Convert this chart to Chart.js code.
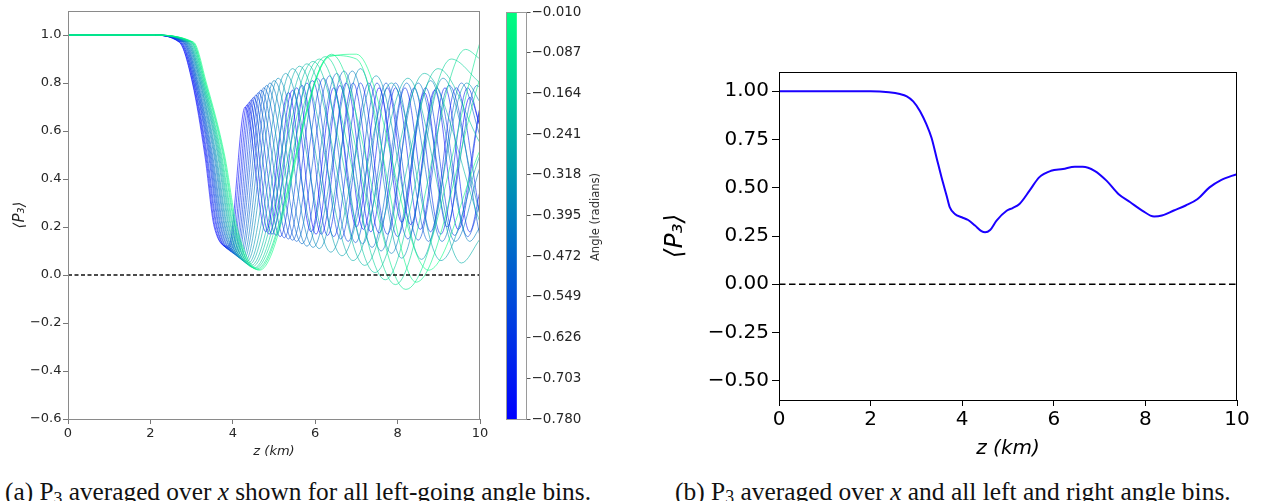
<!DOCTYPE html>
<html>
<head>
<meta charset="utf-8">
<script src="https://cdn.jsdelivr.net/npm/chart.js@4/dist/chart.umd.min.js"></script>
<style>
body { margin: 0; background: #fff; }
#wrap { position: relative; width: 1261px; height: 501px; overflow: hidden; background: #fff; }
canvas { position: absolute; }
.cap { position: absolute; top: 477px; font-family: "Liberation Serif", serif; font-size: 21px; color: #111; white-space: nowrap; }
.cap sub { font-size: 70%; vertical-align: -3px; }
#cbLabel { position: absolute; left: 595px; top: 217px; font-family: "DejaVu Sans", sans-serif; font-size: 11.5px; color: #333;
  white-space: nowrap; transform: translate(-50%, -50%) rotate(-90deg); }
</style>
</head>
<body>
<div id="wrap">
  <canvas id="leftChart" width="500" height="463" style="left:0;top:0"></canvas>
  <canvas id="colorBar" width="120" height="430" style="left:490px;top:0"></canvas>
  <canvas id="rightChart" width="621" height="465" style="left:640px;top:0"></canvas>
  <div id="cbLabel">Angle (radians)</div>
  <div class="cap" id="capA">(a) P<sub>3</sub> averaged over <i>x</i> shown for all left-going angle bins.</div>
  <div class="cap" id="capB">(b) P<sub>3</sub> averaged over <i>x</i> and all left and right angle bins.</div>
</div>
<script>
// ---- data (a): one curve per left-going angle bin, z in km ----
var angleBins = [-0.78, -0.745, -0.71, -0.675, -0.64, -0.605, -0.57, -0.535, -0.50, -0.465, -0.43, -0.395,
  -0.36, -0.325, -0.29, -0.255, -0.22, -0.185, -0.15, -0.115, -0.08, -0.045, -0.01];

var binZ = [
  [0, 2, 2.70, 3.02, 3.32, 3.55, 3.90, 4.30, 4.80, 5.35, 5.90, 6.45, 7.00, 7.55, 8.10, 8.65, 9.20, 9.75, 10],
  [0, 2, 2.71, 3.03, 3.34, 3.57, 3.93, 4.35, 4.88, 5.45, 6.02, 6.60, 7.17, 7.75, 8.32, 8.90, 9.47, 10],
  [0, 2, 2.73, 3.05, 3.36, 3.60, 3.97, 4.40, 4.95, 5.55, 6.15, 6.75, 7.35, 7.95, 8.55, 9.15, 9.75, 10],
  [0, 2, 2.74, 3.06, 3.38, 3.62, 4.00, 4.45, 5.05, 5.68, 6.30, 6.92, 7.55, 8.18, 8.80, 9.42, 10],
  [0, 2, 2.76, 3.08, 3.41, 3.65, 4.04, 4.50, 5.15, 5.80, 6.45, 7.10, 7.75, 8.40, 9.05, 9.70, 10],
  [0, 2, 2.78, 3.09, 3.43, 3.67, 4.07, 4.56, 5.25, 5.93, 6.62, 7.30, 8.00, 8.68, 9.38, 10],
  [0, 2, 2.80, 3.11, 3.45, 3.70, 4.10, 4.62, 5.35, 6.05, 6.80, 7.50, 8.25, 8.95, 9.70, 10],
  [0, 2, 2.81, 3.12, 3.47, 3.72, 4.13, 4.68, 5.45, 6.20, 6.98, 7.72, 8.50, 9.25, 10],
  [0, 2, 2.83, 3.14, 3.49, 3.75, 4.17, 4.75, 5.55, 6.35, 7.15, 7.95, 8.75, 9.55, 10],
  [0, 2, 2.84, 3.15, 3.51, 3.77, 4.20, 4.82, 5.68, 6.52, 7.38, 8.22, 9.08, 9.93, 10],
  [0, 2, 2.86, 3.17, 3.54, 3.80, 4.24, 4.90, 5.80, 6.70, 7.60, 8.50, 9.40, 10],
  [0, 2, 2.87, 3.19, 3.56, 3.82, 4.27, 5.00, 5.95, 6.90, 7.85, 8.80, 9.75, 10],
  [0, 2, 2.89, 3.21, 3.58, 3.85, 4.31, 5.10, 6.10, 7.10, 8.10, 9.10, 10],
  [0, 2, 2.90, 3.22, 3.60, 3.87, 4.34, 5.28, 6.38, 7.48, 8.58, 9.68, 10],
  [0, 2, 2.92, 3.24, 3.63, 3.90, 4.38, 5.45, 6.65, 7.85, 9.05, 10],
  [0, 2, 2.93, 3.25, 3.65, 3.92, 4.41, 5.62, 6.92, 8.25, 9.55, 10],
  [0, 2, 2.95, 3.27, 3.67, 3.95, 4.45, 5.80, 7.20, 8.65, 10],
  [0, 2, 2.97, 3.28, 3.69, 3.97, 4.48, 5.95, 7.45, 8.98, 10],
  [0, 2, 2.99, 3.30, 3.71, 4.00, 4.52, 6.10, 7.70, 9.30, 10],
  [0, 2, 3.00, 3.31, 3.73, 4.02, 4.55, 6.25, 7.95, 9.65, 10],
  [0, 2, 3.02, 3.33, 3.76, 4.05, 4.58, 6.40, 8.20, 10],
  [0, 2, 3.03, 3.34, 3.78, 4.07, 4.61, 6.38, 7.00, 8.45, 10],
  [0, 2, 3.05, 3.36, 3.80, 4.10, 4.65, 6.35, 7.00, 8.75, 10]
];

var binP3 = [
  [1, 1, .97, .80, .50, .20, .12, .70, .18, .76, .18, .78, .20, .78, .22, .76, .20, .74, .62],
  [1, 1, .97, .80, .50, .20, .115, .71, .17, .77, .17, .79, .19, .78, .21, .77, .19, .70],
  [1, 1, .97, .80, .50, .20, .11, .72, .17, .78, .17, .80, .18, .78, .19, .78, .18, .35],
  [1, 1, .97, .80, .50, .20, .105, .73, .165, .79, .165, .80, .175, .78, .18, .78, .25],
  [1, 1, .97, .80, .50, .20, .10, .74, .16, .80, .16, .80, .17, .78, .17, .78, .62],
  [1, 1, .97, .80, .50, .20, .095, .75, .155, .81, .15, .80, .16, .78, .165, .70],
  [1, 1, .97, .80, .50, .20, .09, .76, .15, .82, .14, .80, .15, .78, .16, .30],
  [1, 1, .97, .80, .50, .20, .085, .77, .145, .82, .135, .80, .145, .79, .16],
  [1, 1, .97, .80, .50, .20, .08, .78, .14, .83, .13, .80, .14, .80, .58],
  [1, 1, .97, .80, .50, .20, .075, .79, .13, .84, .115, .80, .14, .79, .78],
  [1, 1, .97, .80, .50, .20, .07, .80, .12, .85, .10, .80, .14, .45],
  [1, 1, .97, .80, .50, .20, .065, .81, .115, .85, .09, .81, .14, .20],
  [1, 1, .97, .80, .50, .20, .06, .82, .11, .86, .07, .82, .25],
  [1, 1, .97, .80, .50, .20, .055, .84, .095, .83, .065, .80, .72],
  [1, 1, .97, .80, .50, .20, .05, .86, .08, .80, .06, .50],
  [1, 1, .97, .80, .50, .20, .045, .87, .06, .82, .05, .15],
  [1, 1, .97, .80, .50, .20, .04, .88, .04, .84, .22],
  [1, 1, .97, .80, .50, .20, .035, .89, .01, .86, .55],
  [1, 1, .97, .80, .50, .20, .03, .90, -.02, .90, .80],
  [1, 1, .97, .80, .50, .20, .028, .91, -.04, .94, .90],
  [1, 1, .97, .80, .50, .20, .025, .92, -.06, .97],
  [1, 1, .97, .80, .50, .20, .022, .915, .90, -.03, .82],
  [1, 1, .97, .80, .50, .20, .02, .91, .92, .02, .52]
];

// ---- data (b): averaged over all bins ----
var avgZ = [0, 1, 2, 2.4, 2.64, 2.79, 2.93, 3.08, 3.22, 3.33, 3.44, 3.55, 3.66, 3.73, 3.84, 3.99, 4.13, 4.28, 4.42, 4.5, 4.61,
  4.75, 4.97, 5.1, 5.25, 5.47, 5.68, 5.94, 6.2, 6.46, 6.63, 6.89, 7.15, 7.41, 7.67, 7.93, 8.19, 8.36, 8.62, 8.88, 9.14, 9.4, 9.65, 10];
var avgP3 = [1, 1, 1, 0.995, 0.986, 0.974, 0.948, 0.897, 0.828, 0.759, 0.656, 0.553, 0.459, 0.398, 0.364, 0.347, 0.333, 0.304, 0.275, 0.269, 0.281,
  0.33, 0.381, 0.395, 0.416, 0.485, 0.554, 0.588, 0.597, 0.609, 0.609, 0.588, 0.537, 0.468, 0.425, 0.382, 0.351, 0.356, 0.382, 0.408, 0.442, 0.502, 0.54, 0.571];

var zeroZ = [0, 10];
var zeroP3 = [0, 0];

// ---- ticks ----
var zTicks = [0, 2, 4, 6, 8, 10];
var leftYTicks = [-0.6, -0.4, -0.2, 0, 0.2, 0.4, 0.6, 0.8, 1.0];
var rightYTicks = [-0.5, -0.25, 0, 0.25, 0.5, 0.75, 1.0];
var colorbarTicks = [-0.010, -0.087, -0.164, -0.241, -0.318, -0.395, -0.472, -0.549, -0.626, -0.703, -0.780];

Chart.defaults.font.family = "'DejaVu Sans', sans-serif";

function fmt(d) {
  return function(v) { return (v < 0 ? '\u2212' : '') + Math.abs(v).toFixed(d); };
}
function pts(xs, ys) {
  var out = [];
  for (var i = 0; i < xs.length; i++) out.push({x: xs[i], y: ys[i]});
  return out;
}
// matplotlib "winter" colormap
function winter(a, alpha) {
  var lo = colorbarTicks[colorbarTicks.length - 1], hi = colorbarTicks[0];
  var t = (a - lo) / (hi - lo);
  return 'rgba(0,' + Math.round(255 * t) + ',' + Math.round(255 * (1 - 0.5 * t)) + ',' + alpha + ')';
}
function setTicks(list) {
  return function(scale) { scale.ticks = list.map(function(v) { return {value: v}; }); };
}

var framePlugin = {
  id: 'frame',
  afterDatasetsDraw: function(chart, args, opts) {
    var a = chart.chartArea, ctx = chart.ctx;
    ctx.save();
    ctx.strokeStyle = opts.color || '#000';
    ctx.lineWidth = opts.width || 1;
    ctx.strokeRect(Math.round(a.left) + 0.5, Math.round(a.top) + 0.5,
      Math.round(a.right - a.left) - 1, Math.round(a.bottom - a.top));
    ctx.restore();
  }
};

// ---------- chart (a) ----------
var leftSets = [];
for (var k = 0; k < angleBins.length; k++) {
  leftSets.push({
    data: pts(binZ[k], binP3[k]),
    borderColor: winter(angleBins[k], 0.75),
    borderWidth: 0.8,
    pointRadius: 0,
    cubicInterpolationMode: 'monotone',
    order: angleBins.length - k
  });
}
leftSets.push({
  data: pts(zeroZ, zeroP3),
  borderColor: '#111',
  borderWidth: 1.3,
  borderDash: [4, 2.5],
  pointRadius: 0,
  order: 0
});

new Chart(document.getElementById('leftChart'), {
  type: 'line',
  data: {datasets: leftSets},
  plugins: [framePlugin],
  options: {
    responsive: false,
    animation: false,
    events: [],
    layout: {padding: {left: 0, right: 20, top: 11, bottom: 0}},
    plugins: {legend: {display: false}, tooltip: {enabled: false}, frame: {color: '#8a8a8a', width: 1}},
    scales: {
      x: {
        type: 'linear', min: 0, max: 10,
        afterBuildTicks: setTicks(zTicks),
        afterFit: function(s) { s.height = 44; },
        grid: {drawOnChartArea: false, tickLength: 5, color: '#777'},
        border: {display: false},
        ticks: {font: {size: 13}, color: '#262626', padding: 2, maxRotation: 0},
        title: {display: true, text: 'z (km)', font: {size: 13, style: 'italic'}, color: '#262626', padding: {top: 0, bottom: 4}}
      },
      y: {
        type: 'linear', min: -0.6, max: 1.1,
        afterBuildTicks: setTicks(leftYTicks),
        afterFit: function(s) { s.width = 68; },
        grid: {drawOnChartArea: false, tickLength: 5, color: '#777'},
        border: {display: false},
        ticks: {font: {size: 13}, color: '#262626', padding: 1.5, callback: fmt(1)},
        title: {display: true, text: '\u27E8P\u2083\u27E9', font: {size: 15, style: 'italic'}, color: '#262626', padding: {top: 11, bottom: 0}}
      }
    }
  }
});

// ---------- colour bar ----------
new Chart(document.getElementById('colorBar'), {
  type: 'bar',
  data: {
    labels: ['angle'],
    datasets: [{
      data: [[colorbarTicks[colorbarTicks.length - 1], colorbarTicks[0]]],
      barPercentage: 1,
      categoryPercentage: 1,
      borderWidth: 0,
      backgroundColor: function(ctx) {
        var area = ctx.chart.chartArea;
        if (!area) return winter(-0.4, 1);
        var g = ctx.chart.ctx.createLinearGradient(0, area.bottom, 0, area.top);
        for (var i = 0; i <= 10; i++) {
          var a = colorbarTicks[10] + (colorbarTicks[0] - colorbarTicks[10]) * i / 10;
          g.addColorStop(i / 10, winter(a, 1));
        }
        return g;
      }
    }]
  },
  plugins: [framePlugin],
  options: {
    responsive: false,
    animation: false,
    events: [],
    layout: {padding: {left: 16, right: 0, top: 12, bottom: 11}},
    plugins: {legend: {display: false}, tooltip: {enabled: false}, frame: {color: '#9a9a9a', width: 1}},
    scales: {
      x: {display: false, offset: false},
      y: {
        type: 'linear', position: 'right',
        min: colorbarTicks[colorbarTicks.length - 1], max: colorbarTicks[0],
        afterBuildTicks: setTicks(colorbarTicks),
        afterFit: function(s) { s.width = 83; },
        grid: {drawOnChartArea: false, tickLength: 3.5, color: '#555'},
        border: {display: false},
        ticks: {font: {size: 13.5}, color: '#262626', padding: 1, callback: fmt(3)}
      }
    }
  }
});

// ---------- chart (b) ----------
new Chart(document.getElementById('rightChart'), {
  type: 'line',
  data: {
    datasets: [{
      data: pts(avgZ, avgP3),
      borderColor: '#1a00ff',
      borderWidth: 2,
      pointRadius: 0,
      cubicInterpolationMode: 'monotone',
      order: 1
    }, {
      data: pts(zeroZ, zeroP3),
      borderColor: '#000',
      borderWidth: 1.6,
      borderDash: [6.5, 3.5],
      pointRadius: 0,
      order: 0
    }]
  },
  plugins: [framePlugin],
  options: {
    responsive: false,
    animation: false,
    events: [],
    layout: {padding: {left: 0, right: 24, top: 72, bottom: 0}},
    plugins: {legend: {display: false}, tooltip: {enabled: false}, frame: {color: '#000', width: 1}},
    scales: {
      x: {
        type: 'linear', min: 0, max: 10,
        afterBuildTicks: setTicks(zTicks),
        afterFit: function(s) { s.height = 65; },
        grid: {drawOnChartArea: false, tickLength: 6, color: '#000'},
        border: {display: false},
        ticks: {font: {size: 20}, color: '#000', padding: 2, maxRotation: 0},
        title: {display: true, text: 'z (km)', font: {size: 20, style: 'italic'}, color: '#000', padding: {top: 0, bottom: 4}}
      },
      y: {
        type: 'linear', min: -0.6, max: 1.1,
        afterBuildTicks: setTicks(rightYTicks),
        afterFit: function(s) { s.width = 139; },
        grid: {drawOnChartArea: false, tickLength: 7, color: '#000'},
        border: {display: false},
        ticks: {font: {size: 20}, color: '#000', padding: 3, callback: fmt(2)},
        title: {display: true, text: '\u27E8P\u2083\u27E9', font: {size: 25, style: 'italic'}, color: '#000', padding: {top: 20, bottom: 0}}
      }
    }
  }
});

// captions: fit to the widths they have in the figure
function fitCaption(id, centre, width) {
  var el = document.getElementById(id);
  var size = 21;
  el.style.fontSize = size + 'px';
  size = size * width / el.offsetWidth;
  el.style.fontSize = size.toFixed(2) + 'px';
  el.style.left = (centre - el.offsetWidth / 2) + 'px';
}
fitCaption('capA', 298, 586);
fitCaption('capB', 953, 556);
</script>
</body>
</html>
